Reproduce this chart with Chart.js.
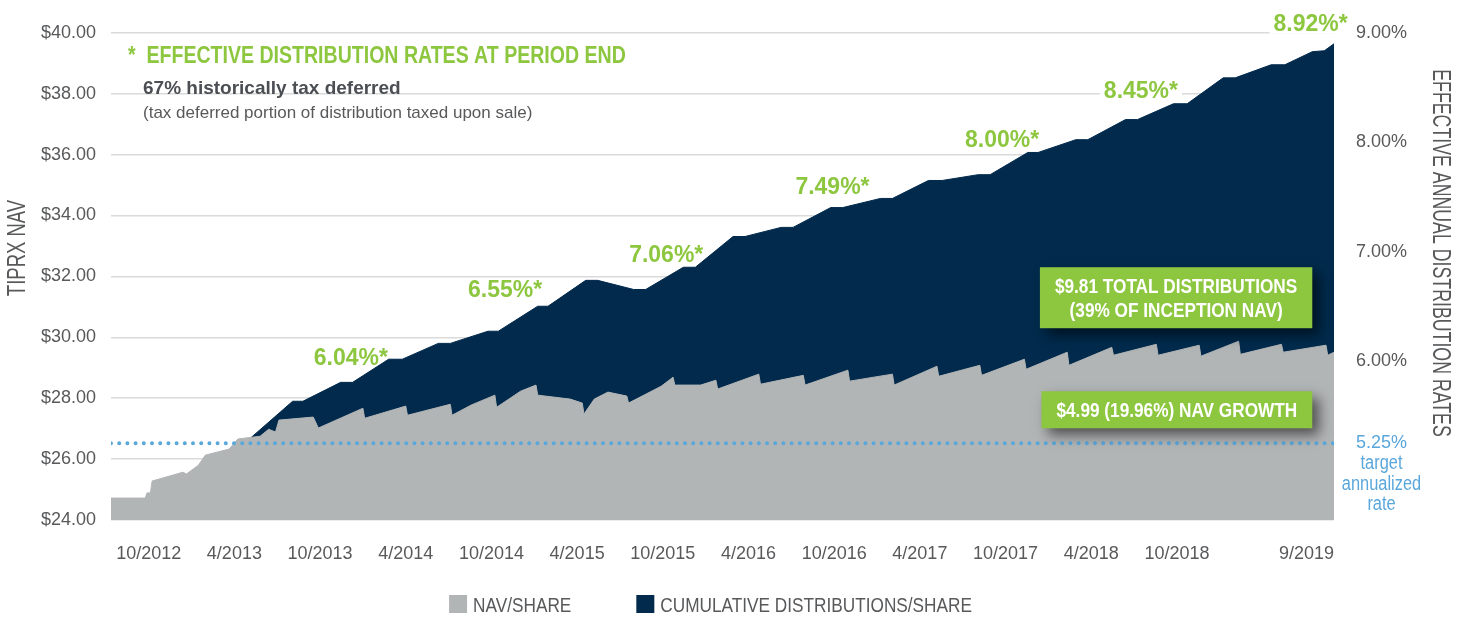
<!DOCTYPE html>
<html>
<head>
<meta charset="utf-8">
<script src="https://cdn.jsdelivr.net/npm/chart.js@4.4.1/dist/chart.umd.min.js"></script>
<style>
  html, body { margin: 0; padding: 0; background: #fff; }
</style>
</head>
<body>
<canvas id="navChart" width="1467" height="617"></canvas>
<script>
// dates are decimal years (2012.75 = start of Oct 2012)
const navDates = [2012.53, 2012.73, 2012.74, 2012.76, 2012.77, 2012.95, 2012.97, 2013.04, 2013.08, 2013.22,
  2013.27, 2013.40, 2013.45, 2013.49, 2013.51, 2013.71, 2013.74, 2014.00, 2014.01, 2014.25,
  2014.26, 2014.51, 2014.52, 2014.63, 2014.77, 2014.78, 2014.92, 2015.01, 2015.02, 2015.21,
  2015.28, 2015.29, 2015.35, 2015.43, 2015.54, 2015.55, 2015.74, 2015.81, 2015.82, 2015.97,
  2016.06, 2016.07, 2016.31, 2016.32, 2016.57, 2016.58, 2016.83, 2016.84, 2017.09, 2017.10,
  2017.35, 2017.36, 2017.60, 2017.61, 2017.86, 2017.87, 2018.11, 2018.12, 2018.37, 2018.38,
  2018.63, 2018.64, 2018.88, 2018.89, 2019.11, 2019.12, 2019.36, 2019.37, 2019.62, 2019.63, 2019.667];
const navValues = [24.72, 24.72, 24.89, 24.89, 25.28, 25.57, 25.51, 25.80, 26.13, 26.33,
  26.66, 26.75, 26.98, 26.89, 27.28, 27.38, 27.02, 27.67, 27.34, 27.74,
  27.44, 27.80, 27.44, 27.77, 28.10, 27.70, 28.23, 28.43, 28.10, 27.97,
  27.84, 27.48, 27.97, 28.20, 28.07, 27.84, 28.39, 28.69, 28.43, 28.43,
  28.59, 28.30, 28.79, 28.46, 28.75, 28.43, 28.92, 28.56, 28.79, 28.43,
  29.05, 28.72, 29.08, 28.75, 29.28, 28.95, 29.51, 29.08, 29.67, 29.41,
  29.77, 29.41, 29.74, 29.38, 29.87, 29.44, 29.77, 29.51, 29.74, 29.41, 29.51];

// NAV plus cumulative distributions (top of the navy band)
const totalDates = [2013.23, 2013.59, 2013.65, 2013.87, 2013.94, 2014.15, 2014.23, 2014.44, 2014.51, 2014.73,
  2014.79, 2015.02, 2015.08, 2015.30, 2015.37, 2015.58, 2015.65, 2015.87, 2015.94, 2016.16,
  2016.23, 2016.44, 2016.51, 2016.73, 2016.80, 2017.02, 2017.09, 2017.30, 2017.38, 2017.59,
  2017.66, 2017.88, 2017.94, 2018.16, 2018.23, 2018.45, 2018.52, 2018.73, 2018.81, 2019.02,
  2019.09, 2019.30, 2019.38, 2019.54, 2019.61, 2019.667];
const totalValues = [26.13, 27.90, 27.90, 28.52, 28.52, 29.28, 29.28, 29.80, 29.80, 30.20,
  30.20, 31.02, 31.02, 31.87, 31.87, 31.57, 31.57, 32.30, 32.30, 33.31,
  33.31, 33.61, 33.61, 34.26, 34.26, 34.56, 34.56, 35.15, 35.15, 35.34,
  35.34, 36.07, 36.07, 36.49, 36.49, 37.15, 37.15, 37.67, 37.67, 38.52,
  38.52, 38.95, 38.95, 39.38, 39.41, 39.64];

const targetRate = 5.25;
const rateTicks = [5.25, 6, 7, 8, 9];
const xTickLabels = ['10/2012', '4/2013', '10/2013', '4/2014', '10/2014', '4/2015', '10/2015',
  '4/2016', '10/2016', '4/2017', '10/2017', '4/2018', '10/2018', '9/2019'];

const rateLabels = ['6.04%*', '6.55%*', '7.06%*', '7.49%*', '8.00%*', '8.45%*', '8.92%*'];
const rateLabelDates = [2013.93, 2014.83, 2015.77, 2016.74, 2017.73, 2018.54, 2019.53];
const rateLabelLevels = [29.34, 31.57, 32.75, 34.98, 36.52, 38.13, 40.33];

const GREEN = '#8dc63f';
const NAVY = '#012a4c';
const GRAY = '#b2b5b6';
const BLUE = '#5aa7dc';
const TEXT = '#58595b';
const SANS = '"Liberation Sans", Arial, sans-serif';

function monthToYear(label) {
  const [m, y] = label.split('/').map(Number);
  return y + (m - 1) / 12;
}
const xTickValues = xTickLabels.map(monthToYear);
const xMin = navDates[0];
const xMax = xTickValues[xTickValues.length - 1];

function toPoints(xs, ys) {
  return ys.map((v, i) => ({ x: xs[i], y: v }));
}

// no condensed face is installed, so squeeze Liberation Sans horizontally
function narrowText(ctx, text, x, y, align, squeeze, angle) {
  ctx.save();
  ctx.translate(x, y);
  if (angle) ctx.rotate(angle);
  ctx.scale(squeeze, 1);
  ctx.textAlign = align;
  ctx.fillText(text, 0, 0);
  ctx.restore();
}

// green callouts, anchored at right edge date / centre level
const callouts = [
  { lines: ['$9.81 TOTAL DISTRIBUTIONS', '(39% OF INCEPTION NAV)'], right: 2019.54, level: 31.30 },
  { lines: ['$4.99 (19.96%) NAV GROWTH'], right: 2019.54, level: 27.62 }
];

const decorations = {
  id: 'decorations',
  beforeDatasetsDraw(chart) {
    // rate labels sit under the areas so the navy edge stays crisp
    const { ctx, scales } = chart;
    ctx.save();
    ctx.font = 'bold 23px ' + SANS;
    ctx.textAlign = 'center';
    ctx.textBaseline = 'alphabetic';
    rateLabels.forEach((t, i) => {
      const px = scales.x.getPixelForValue(rateLabelDates[i]);
      const py = scales.y.getPixelForValue(rateLabelLevels[i]);
      const w = ctx.measureText(t).width;
      ctx.fillStyle = '#fff';
      ctx.fillRect(px - w / 2 - 4, py - 11, w + 8, 22);
      ctx.fillStyle = GREEN;
      ctx.fillText(t, px, py + 8);
    });
    ctx.restore();
  },
  afterDatasetsDraw(chart) {
    const { ctx, scales } = chart;
    const sq = 0.82;
    ctx.save();
    ctx.font = 'bold 21px ' + SANS;
    ctx.textBaseline = 'alphabetic';
    callouts.forEach(c => {
      const widths = c.lines.map(l => ctx.measureText(l).width * sq);
      const w = Math.max(...widths) + 30;
      const h = c.lines.length * 24 + 13;
      const right = scales.x.getPixelForValue(c.right);
      const cy = scales.y.getPixelForValue(c.level);
      ctx.save();
      ctx.shadowColor = 'rgba(0,0,0,0.55)';
      ctx.shadowBlur = 12;
      ctx.shadowOffsetX = 7;
      ctx.shadowOffsetY = 7;
      ctx.fillStyle = GREEN;
      ctx.fillRect(right - w, cy - h / 2, w, h);
      ctx.restore();
      ctx.fillStyle = '#fff';
      c.lines.forEach((l, i) => {
        const ly = cy - (c.lines.length - 1) * 12 + i * 24 + 7.5;
        narrowText(ctx, l, right - w / 2, ly, 'center', sq);
      });
    });
    ctx.restore();
  },
  afterDraw(chart) {
    const { ctx, chartArea, scales } = chart;
    ctx.save();
    ctx.textBaseline = 'alphabetic';

    // notes in the top-left corner
    ctx.fillStyle = GREEN;
    ctx.font = 'bold 23px ' + SANS;
    narrowText(ctx, '*  EFFECTIVE DISTRIBUTION RATES AT PERIOD END', chartArea.left + 17, 63, 'left', 0.85);
    ctx.textAlign = 'left';
    ctx.fillStyle = '#4b4f54';
    ctx.font = 'bold 19px ' + SANS;
    ctx.fillText('67% historically tax deferred', chartArea.left + 32, 94);
    ctx.fillStyle = TEXT;
    ctx.font = '17px ' + SANS;
    ctx.fillText('(tax deferred portion of distribution taxed upon sale)', chartArea.left + 32, 118);

    // axis titles
    ctx.font = '25px ' + SANS;
    ctx.fillStyle = TEXT;
    ctx.textBaseline = 'middle';
    narrowText(ctx, 'TIPRX NAV', 18, 248, 'center', 0.74, -Math.PI / 2);
    narrowText(ctx, 'EFFECTIVE ANNUAL DISTRIBUTION RATES', 1440, 253, 'center', 0.71, Math.PI / 2);
    ctx.textBaseline = 'alphabetic';

    // caption under the 5.25% tick
    const rate = scales.rate;
    ctx.font = '18px ' + SANS;
    const tw = ctx.measureText('5.25%').width;
    const cx = rate.left + 22 + tw / 2;
    const ty = rate.getPixelForValue(targetRate);
    ctx.font = '20px ' + SANS;
    ctx.fillStyle = BLUE;
    ['target', 'annualized', 'rate'].forEach((t, i) => {
      narrowText(ctx, t, cx, ty + 26 + i * 20.5, 'center', 0.82);
    });

    // legend
    const items = chart.data.datasets.filter(d => d.showInLegend);
    const sq = 0.82;
    ctx.font = '21px ' + SANS;
    const box = 18, gap = 6, spacing = 65;
    const total = items.reduce((s, d) => s + box + gap + ctx.measureText(d.label).width * sq, 0) + spacing * (items.length - 1);
    let lx = (chartArea.left + chartArea.right) / 2 - 12 - total / 2;
    const ly = 604;
    items.forEach(d => {
      ctx.fillStyle = d.backgroundColor;
      ctx.fillRect(lx, ly - box / 2, box, box);
      lx += box + gap;
      ctx.fillStyle = TEXT;
      narrowText(ctx, d.label, lx, ly + 8, 'left', sq);
      lx += ctx.measureText(d.label).width * sq + spacing;
    });
    ctx.restore();
  }
};

new Chart(document.getElementById('navChart'), {
  type: 'line',
  data: {
    datasets: [
      {
        label: 'target annualized rate',
        data: toPoints([xMin, xMax], [targetRate, targetRate]),
        yAxisID: 'rate',
        borderColor: BLUE,
        borderWidth: 4,
        borderDash: [0, 8.2],
        borderCapStyle: 'round',
        pointRadius: 0,
        fill: false,
        order: 0
      },
      {
        label: 'NAV/SHARE',
        showInLegend: true,
        data: toPoints(navDates, navValues),
        yAxisID: 'y',
        borderColor: GRAY,
        borderWidth: 1,
        backgroundColor: GRAY,
        fill: 'start',
        pointRadius: 0,
        tension: 0,
        order: 1
      },
      {
        label: 'CUMULATIVE DISTRIBUTIONS/SHARE',
        showInLegend: true,
        data: toPoints(totalDates, totalValues),
        yAxisID: 'y',
        borderColor: NAVY,
        borderWidth: 1,
        backgroundColor: NAVY,
        fill: 'start',
        pointRadius: 0,
        tension: 0,
        order: 2
      }
    ]
  },
  options: {
    responsive: false,
    animation: false,
    devicePixelRatio: 1,
    layout: { padding: { top: 30, bottom: 47, left: 0, right: 0 } },
    plugins: {
      legend: { display: false },
      tooltip: { enabled: false }
    },
    scales: {
      x: {
        type: 'linear',
        min: xMin,
        max: xMax,
        grid: { display: false, drawTicks: false },
        border: { display: false },
        afterBuildTicks: scale => {
          scale.ticks = [{ value: xMin }].concat(xTickValues.map(v => ({ value: v })));
        },
        afterFit: scale => { scale.height = 50; },
        ticks: {
          align: 'inner',
          autoSkip: false,
          maxRotation: 0,
          minRotation: 0,
          padding: 23,
          color: TEXT,
          font: { family: SANS, size: 18 },
          callback: (value, index) => index === 0 ? '' : xTickLabels[index - 1]
        }
      },
      y: {
        position: 'left',
        min: 24,
        max: 40,
        grid: { color: '#dadada', lineWidth: 1.5, drawTicks: false },
        border: { display: false },
        afterFit: scale => { scale.width = 111; },
        ticks: {
          stepSize: 2,
          padding: 15,
          color: TEXT,
          font: { family: SANS, size: 18 },
          callback: v => '$' + v.toFixed(2)
        }
      },
      rate: {
        position: 'right',
        min: 4.55,
        max: 9,
        grid: { display: false, drawTicks: false },
        border: { display: false },
        afterBuildTicks: scale => {
          scale.ticks = rateTicks.map(v => ({ value: v }));
        },
        afterFit: scale => { scale.width = 133; },
        ticks: {
          padding: 22,
          color: c => (c.tick && c.tick.value === targetRate) ? BLUE : TEXT,
          font: { family: SANS, size: 18 },
          callback: v => v.toFixed(2) + '%'
        }
      }
    }
  },
  plugins: [decorations]
});
</script>
</body>
</html>
